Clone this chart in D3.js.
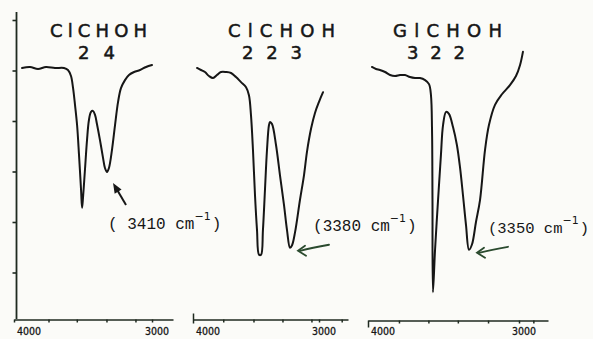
<!DOCTYPE html>
<html>
<head>
<meta charset="utf-8">
<script src="https://cdn.jsdelivr.net/npm/d3@7"></script>
<style>
  body { margin: 0; background: #fbfbf8; }
  svg { display: block; }
</style>
</head>
<body>
<script>
// IR traces: wavenumber (cm-1) and relative transmittance
const wn1 = [3942, 3884, 3826, 3768, 3703, 3638, 3609, 3587, 3572, 3558, 3543, 3529, 3514, 3507,
  3500, 3486, 3471, 3457, 3442, 3428, 3413, 3399, 3377, 3355, 3341, 3326, 3312, 3290, 3268,
  3246, 3225, 3196, 3167, 3130, 3087, 3043, 3000];
const tr1 = [5.05, 5.07, 5.03, 5.07, 5.05, 5.05, 5.01, 4.89, 4.65, 4.32, 3.92, 3.33, 2.63, 2.28,
  2.48, 3.03, 3.62, 4.02, 4.18, 4.20, 4.12, 3.94, 3.62, 3.27, 3.07, 2.99, 3.07, 3.43, 3.92,
  4.38, 4.65, 4.81, 4.91, 4.97, 5.01, 5.07, 5.11];

const wn2 = [3968, 3937, 3905, 3873, 3841, 3810, 3778, 3738, 3698, 3659, 3619, 3579, 3556, 3540,
  3524, 3508, 3492, 3476, 3460, 3445, 3429, 3413, 3397, 3389, 3373, 3341, 3310, 3278, 3254,
  3230, 3214, 3190, 3151, 3119, 3095, 3063, 3032, 3000, 2968];
const tr2 = [5.05, 5.01, 4.97, 4.89, 4.85, 4.91, 4.97, 4.97, 4.95, 4.87, 4.77, 4.67, 4.51, 4.12,
  3.42, 2.53, 1.84, 1.35, 1.35, 1.84, 2.63, 3.42, 3.92, 3.98, 3.94, 3.52, 2.93, 2.34, 1.84,
  1.49, 1.54, 1.80, 2.44, 2.93, 3.40, 3.85, 4.16, 4.38, 4.57];

const wn3 = [3974, 3947, 3921, 3887, 3854, 3821, 3788, 3755, 3722, 3689, 3656, 3622, 3596, 3583,
  3576, 3573, 3570, 3556, 3536, 3517, 3503, 3483, 3464, 3437, 3411, 3391, 3371, 3351, 3331,
  3311, 3285, 3258, 3225, 3199, 3159, 3113, 3060, 3020, 2993, 2974];
const tr3 = [5.07, 5.03, 5.01, 4.97, 4.91, 4.89, 4.91, 4.91, 4.87, 4.85, 4.85, 4.81, 4.73, 4.51,
  3.82, 2.44, 0.61, 1.45, 2.44, 3.33, 3.92, 4.18, 4.14, 3.88, 3.52, 3.09, 2.53, 1.94, 1.45,
  1.56, 2.00, 2.44, 3.43, 3.92, 4.32, 4.53, 4.71, 4.89, 5.11, 5.37];

const titles = ["ClCHOH", "ClCHOH", "GlCHOH"];
const subscripts = ["2 4", "2 2 3", "3 2 2"];
const peakLabels = ["3410", "3380", "3350"];
const peakWn = [3326, 3230, 3331];
const peakTr = [2.99, 1.49, 1.45];

const xTicks1 = [4000, 3750, 3545, 3330, 3120, 3000];
const xTicks2 = [4000, 3760, 3520, 3290, 3060, 3000, 2820];
const xTicks3 = [4000, 3795, 3600, 3405, 3205, 3000, 2905];
const xLabels = [4000, 3000];
const yTicks = [1, 2, 3, 4, 5, 6];

const width = 593;
const height = 339;
const ink = '#161616';
const axisInk = '#1f2a20';

const svg = d3.select('body')
  .append('svg')
  .attr('width', width)
  .attr('height', height);

// shared transmittance scale
const y = d3.scaleLinear().domain([0, 6]).range([323, 20]);

// left axis (only on first panel)
const yAxis = svg.append('g')
  .attr('transform', 'translate(16.5,0)')
  .call(d3.axisLeft(y).tickValues(yTicks).tickSize(4).tickFormat(''));
yAxis.select('.domain').remove();
yAxis.selectAll('.tick line').attr('stroke', axisInk).attr('stroke-width', 1.6);
svg.append('line')
  .attr('x1', 16.5).attr('x2', 16.5)
  .attr('y1', y(6.16)).attr('y2', y(0.08))
  .attr('stroke', axisInk).attr('stroke-width', 1.8);

// panels
const panels = [
  { wn: wn1, tr: tr1, ticks: xTicks1, left: 14, right: 173, end: 2848, axisY: 319.5,
    title: [50, 147], sub: [78, 115] },
  { wn: wn2, tr: tr2, ticks: xTicks2, left: 193, right: 348, end: 2770, axisY: 319.5,
    title: [228, 335], sub: [242, 302] },
  { wn: wn3, tr: tr3, ticks: xTicks3, left: 368, right: 548, end: 2808, axisY: 320.5,
    title: [393, 502], sub: [407, 465] }
];

const line = d3.line()
  .x(d => d[0])
  .y(d => d[1])
  .curve(d3.curveCatmullRom.alpha(0.5));

panels.forEach((p, i) => {
  const x = d3.scaleLinear().domain([4000, p.end]).range([p.left, p.right]);

  // bottom axis
  const g = svg.append('g')
    .attr('transform', `translate(0,${p.axisY})`)
    .call(d3.axisBottom(x).tickValues(p.ticks).tickSize(3).tickSizeOuter(0).tickFormat(''));
  g.select('.domain').attr('stroke', axisInk).attr('stroke-width', 1.7);
  g.selectAll('.tick line').attr('stroke', axisInk).attr('stroke-width', 1.5);
  if (i === 1) g.selectAll('.tick line').filter(d => d === 4000).attr('y1', -6).attr('y2', 4);
  if (i === 2) g.selectAll('.tick line').filter(d => d === 4000).attr('y1', 0).attr('y2', 7);

  // tick labels
  xLabels.forEach(v => {
    svg.append('text')
      .attr('x', v === 4000 ? x(v) + 3 : x(v) - 7)
      .attr('y', 335)
      .attr('textLength', 24)
      .attr('lengthAdjust', 'spacingAndGlyphs')
      .attr('font-family', 'DejaVu Sans Condensed, DejaVu Sans')
      .attr('font-size', 11)
      .attr('stroke', ink).attr('stroke-width', 0.3)
      .attr('fill', ink)
      .text(v);
  });

  // spectrum trace
  const pts = p.wn.map((w, k) => [x(w), y(p.tr[k])]);
  svg.append('path')
    .attr('d', line(pts))
    .attr('fill', 'none')
    .attr('stroke', ink)
    .attr('stroke-width', 2)
    .attr('stroke-linejoin', 'round')
    .attr('stroke-linecap', 'round');

  // formula title
  svg.append('text')
    .attr('x', p.title[0]).attr('y', 37)
    .attr('textLength', p.title[1] - p.title[0])
    .attr('lengthAdjust', 'spacing')
    .attr('font-family', 'DejaVu Sans')
    .attr('font-size', 18)
    .attr('stroke', ink).attr('stroke-width', 0.5)
    .attr('fill', ink)
    .text(titles[i]);
  svg.append('text')
    .attr('x', p.sub[0]).attr('y', 59)
    .attr('textLength', p.sub[1] - p.sub[0])
    .attr('lengthAdjust', 'spacing')
    .attr('font-family', 'DejaVu Sans')
    .attr('font-size', 18)
    .attr('stroke', ink).attr('stroke-width', 0.5)
    .attr('fill', ink)
    .text(subscripts[i]);

  // peak annotation
  const hx = x(peakWn[i]);
  const hy = y(peakTr[i]);
  let tx, ty;
  if (i === 0) {
    const tip = [hx + 6, hy + 11];
    const tail = [hx + 19, hy + 33];
    svg.append('line')
      .attr('x1', tail[0]).attr('y1', tail[1])
      .attr('x2', tip[0] + 3).attr('y2', tip[1] + 5)
      .attr('stroke', ink).attr('stroke-width', 2);
    const ang = Math.atan2(tail[1] - tip[1], tail[0] - tip[0]);
    const L = 10, W = 4;
    const bx = tip[0] + L * Math.cos(ang), by = tip[1] + L * Math.sin(ang);
    svg.append('path')
      .attr('d', `M${tip[0]},${tip[1]}L${bx - W * Math.sin(ang)},${by + W * Math.cos(ang)}L${bx + W * Math.sin(ang)},${by - W * Math.cos(ang)}Z`)
      .attr('fill', ink);
    tx = hx + 1; ty = hy + 57;
  } else {
    const tip = [hx + 8, hy + 3];
    const g2 = svg.append('g').attr('stroke', '#2a4a2e').attr('stroke-width', 1.8)
      .attr('fill', 'none').attr('stroke-linecap', 'round');
    g2.append('path')
      .attr('d', `M${tip[0] + 31},${tip[1] - 6}Q${tip[0] + 14},${tip[1] - 3} ${tip[0] + 2},${tip[1]}`);
    g2.append('path')
      .attr('d', `M${tip[0] + 7},${tip[1] - 5}L${tip[0]},${tip[1]}L${tip[0] + 8},${tip[1] + 5}`);
    tx = hx + (i === 2 ? 19 : 23); ty = hy - 17;
  }
  const t = svg.append('text')
    .attr('x', tx).attr('y', ty)
    .attr('font-family', 'Liberation Mono')
    .attr('font-size', i === 2 ? 15.5 : 16)
    .attr('fill', ink);
  t.append('tspan').text(i === 0 ? '( ' + peakLabels[i] + ' cm' : '(' + peakLabels[i] + ' cm');
  t.append('tspan').attr('dy', -9).attr('font-size', 11).attr('font-family', 'DejaVu Sans').text('\u22121');
  t.append('tspan').attr('dy', 9).attr('dx', 1).text(')');
});
</script>
</body>
</html>
